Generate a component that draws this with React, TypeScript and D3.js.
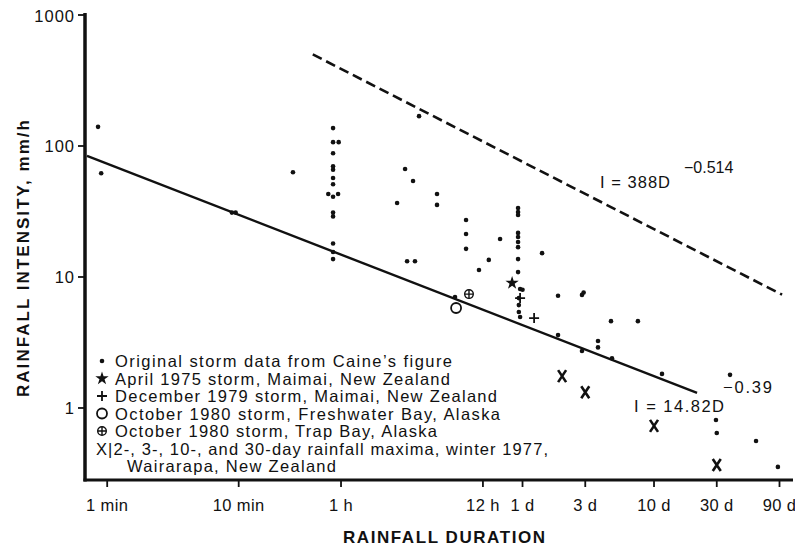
import React from "react";
import * as d3 from "d3";

const W = 795;
const H = 549;
const FONT = "'Liberation Sans', Arial, Helvetica, sans-serif";
const INK = "#111";

// Duration in hours, intensity in mm/h
const caineDots: [number, number][] = [
  [0.0142, 140], [0.015, 62],
  [0.148, 31], [0.158, 31],
  [0.431, 63],
  [0.87, 137], [0.87, 107], [0.96, 107], [0.87, 88], [0.87, 70], [0.87, 66],
  [0.87, 57], [0.87, 51], [0.8, 43], [0.95, 43], [0.87, 41], [0.87, 31],
  [0.87, 29], [0.87, 18], [0.87, 15.5], [0.87, 13.7],
  [3.92, 169], [3.07, 66.7], [3.53, 54], [2.67, 36.7],
  [5.37, 43], [5.37, 35.5],
  [8.93, 27.2], [8.93, 21.3], [8.93, 16.4],
  [16.2, 19.5], [3.18, 13.2], [3.65, 13.2], [13.3, 13.5], [11.2, 11.3],
  [7.36, 7.03],
  [22.2, 33.6], [22.2, 31.3], [22.2, 29.7], [22.2, 21.7], [22.2, 20.2],
  [22.2, 18.5], [22.2, 16.9], [22.2, 13.7], [22.2, 10.9], [23, 8.1], [24, 8.0],
  [22.5, 6.9], [22.5, 6.1], [22.5, 5.4], [23, 4.95],
  [33.8, 15.2], [44.7, 7.2], [44.7, 3.6],
  [68, 7.3], [70, 7.6], [113, 4.6], [181, 4.6],
  [68, 2.72], [90, 3.25], [90, 2.9], [115, 2.4], [276, 1.82], [908, 1.79],
  [710, 0.81], [720, 0.644], [1432, 0.56], [2100, 0.355],
];
const april1975Star: [number, number][] = [[20, 9.0]];
const dec1979Plus: [number, number][] = [[23, 6.9], [29.4, 4.86]];
const freshwaterCircle: [number, number][] = [[7.5, 5.8]];
const trapBayOplus: [number, number][] = [[9.4, 7.4]];
const wairarapaX: [number, number][] = [[48, 1.75], [72, 1.32], [240, 0.73], [720, 0.367]];

const yTickValues = [1, 10, 100, 1000];
const xTickValues = [1 / 60, 10 / 60, 1, 12, 24, 72, 240, 720, 2160];
const xTickLabels = ["1 min", "10 min", "1 h", "12 h", "1 d", "3 d", "10 d", "30 d", "90 d"];

// Fitted power laws I = a * D^b, drawn between the durations shown
const fitCoefA = [388, 14.82];
const fitCoefB = [-0.514, -0.39];
const fitFrom = [0.61, 0.0117];
const fitTo = [2260, 510];
const fitDashed = [true, false];

const legendSymbols = ["dot", "star", "plus", "circle", "oplus", "none", "none"];
const legendTexts = [
  "Original storm data from Caine\u2019s figure",
  "April 1975 storm, Maimai, New Zealand",
  "December 1979 storm, Maimai, New Zealand",
  "October 1980 storm, Freshwater Bay, Alaska",
  "October 1980 storm, Trap Bay, Alaska",
  "X|2-, 3-, 10-, and 30-day rainfall maxima, winter 1977,",
  "Wairarapa, New Zealand",
];
const legendTextX = [115, 115, 115, 115, 115, 96, 127];
const legendTextLen = [337, 335, 382, 385, 322, 452, 209];

const xScale = d3.scaleLog().domain([0.0113, 2736]).range([85, 793]);
const yScale = d3.scaleLog().domain([0.282, 1000]).range([480, 15]);

const starPath = d3.symbol(d3.symbolStar, 55)() as string;

function Marker({ type, x, y }: { type: string; x: number; y: number }) {
  switch (type) {
    case "dot":
      return <circle cx={x} cy={y} r={2.3} fill={INK} />;
    case "star":
      return <path d={starPath} transform={`translate(${x},${y})`} fill={INK} />;
    case "plus":
      return (
        <path d={`M${x - 5},${y}H${x + 5}M${x},${y - 5}V${y + 5}`} stroke={INK} strokeWidth={1.8} fill="none" />
      );
    case "circle":
      return <circle cx={x} cy={y} r={5} stroke={INK} strokeWidth={1.8} fill="none" />;
    case "oplus":
      return (
        <g stroke={INK} strokeWidth={1.4} fill="none">
          <circle cx={x} cy={y} r={4.3} />
          <path d={`M${x - 4.3},${y}H${x + 4.3}M${x},${y - 4.3}V${y + 4.3}`} />
        </g>
      );
    case "x":
      return (
        <path d={`M${x - 4},${y - 6}L${x + 4},${y + 6}M${x + 4},${y - 6}L${x - 4},${y + 6}`} stroke={INK} strokeWidth={2.6} fill="none" />
      );
    default:
      return null;
  }
}

export default function App() {
  const fits = fitCoefA.map((a, i) => {
    const ds = [fitFrom[i], fitTo[i]];
    const path = d3
      .line<number>()
      .x((d) => xScale(d))
      .y((d) => yScale(a * Math.pow(d, fitCoefB[i])))(ds);
    return { path, dashed: fitDashed[i] };
  });

  const axisY = yScale.range()[0];
  const axisX = xScale.range()[0];

  return (
    <svg
      width={W}
      height={H}
      viewBox={`0 0 ${W} ${H}`}
      style={{ position: "absolute", left: 0, top: 0, background: "#fff", display: "block" }}
      fontFamily={FONT}
    >
      <rect width={W} height={H} fill="#fff" />

      {/* axes */}
      <line x1={axisX} y1={13} x2={axisX} y2={axisY + 1.5} stroke={INK} strokeWidth={3.5} />
      <line x1={axisX - 1.5} y1={axisY} x2={xScale.range()[1]} y2={axisY} stroke={INK} strokeWidth={3} />

      {yTickValues.map((v) => (
        <g key={"yt" + v}>
          <line x1={78} x2={axisX} y1={yScale(v)} y2={yScale(v)} stroke={INK} strokeWidth={1.8} />
          <text x={75} y={yScale(v) + 6.5} textAnchor="end" fontSize={16.5} letterSpacing={1} fill={INK}>
            {v}
          </text>
        </g>
      ))}

      {xTickValues.map((v, i) => (
        <g key={"xt" + i}>
          <line x1={xScale(v)} x2={xScale(v)} y1={axisY} y2={axisY + 7} stroke={INK} strokeWidth={1.8} />
          <text x={xScale(v)} y={511} textAnchor="middle" fontSize={16.5} letterSpacing={0.4} fill={INK}>
            {xTickLabels[i]}
          </text>
        </g>
      ))}

      {/* axis titles */}
      <text
        transform="translate(29,258.5) rotate(-90)"
        textAnchor="middle"
        fontSize={17}
        fontWeight="bold"
        textLength={277}
        lengthAdjust="spacing"
        fill={INK}
      >
        RAINFALL INTENSITY, mm/h
      </text>
      <text x={343} y={543} fontSize={17} fontWeight="bold" textLength={202} lengthAdjust="spacing" fill={INK}>
        RAINFALL DURATION
      </text>

      {/* fitted lines */}
      {fits.map((f, i) => (
        <path
          key={"fit" + i}
          d={f.path as string}
          fill="none"
          stroke={INK}
          strokeWidth={f.dashed ? 2.6 : 2.4}
          strokeDasharray={f.dashed ? "10 5" : undefined}
        />
      ))}

      {/* equation labels */}
      <text x={600} y={188} fontSize={16.5} textLength={70} lengthAdjust="spacing" fill={INK}>
        I = 388D
      </text>
      <text x={684} y={173} fontSize={16} fill={INK}>
        {"\u22120.514"}
      </text>
      <text x={634} y={412} fontSize={16.5} textLength={90} lengthAdjust="spacing" fill={INK}>
        I = 14.82D
      </text>
      <text x={723} y={393} fontSize={16.5} textLength={49} lengthAdjust="spacing" fill={INK}>
        {"\u22120.39"}
      </text>

      {/* data */}
      {caineDots.map((d, i) => (
        <Marker key={"c" + i} type="dot" x={xScale(d[0])} y={yScale(d[1])} />
      ))}
      {april1975Star.map((d, i) => (
        <Marker key={"s" + i} type="star" x={xScale(d[0])} y={yScale(d[1])} />
      ))}
      {dec1979Plus.map((d, i) => (
        <Marker key={"p" + i} type="plus" x={xScale(d[0])} y={yScale(d[1])} />
      ))}
      {freshwaterCircle.map((d, i) => (
        <Marker key={"o" + i} type="circle" x={xScale(d[0])} y={yScale(d[1])} />
      ))}
      {trapBayOplus.map((d, i) => (
        <Marker key={"op" + i} type="oplus" x={xScale(d[0])} y={yScale(d[1])} />
      ))}
      {wairarapaX.map((d, i) => (
        <Marker key={"x" + i} type="x" x={xScale(d[0])} y={yScale(d[1])} />
      ))}

      {/* legend */}
      {legendTexts.map((t, i) => {
        const baseY = 367 + i * 17.5;
        return (
          <g key={"lg" + i}>
            <Marker type={legendSymbols[i]} x={102} y={baseY - 6} />
            <text
              x={legendTextX[i]}
              y={baseY}
              fontSize={16.5}
              textLength={legendTextLen[i]}
              lengthAdjust="spacing"
              fill={INK}
            >
              {t}
            </text>
          </g>
        );
      })}
    </svg>
  );
}
